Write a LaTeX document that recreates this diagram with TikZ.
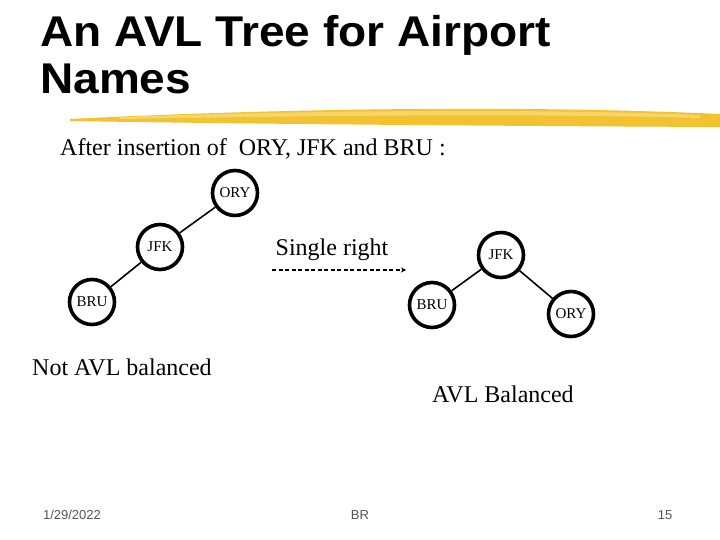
\documentclass[tikz,border=0pt]{standalone}
\usepackage{fontspec}
\setmainfont{Liberation Serif}
\setsansfont{Liberation Sans}
\usepackage{xcolor}
\usepackage{graphicx}
\usetikzlibrary{positioning, arrows.meta}
\definecolor{brushyellow}{HTML}{F2C230}
\definecolor{brushlight}{HTML}{F8DC78}
\definecolor{footgrey}{HTML}{555555}

\tikzset{
  avlnode/.style={circle, draw, line width=3.6pt, minimum size=45pt, inner sep=0pt,
                  font=\fontsize{15}{17}\selectfont},
  avledge/.style={line width=1.6pt},
  caption/.style={font=\fontsize{24}{28}\selectfont, inner sep=0pt},
  titletext/.style={anchor=base west, inner sep=0pt,
                    font=\sffamily\bfseries\fontsize{43}{48}\selectfont},
  footer/.style={font=\sffamily\fontsize{13}{15}\selectfont, text=footgrey, inner sep=0pt}
}

\begin{document}
\begin{tikzpicture}[x=1pt, y=-1pt]
  \useasboundingbox[fill=white] (0,0) rectangle (720,540);

  % title and brush stroke
  \node[titletext] (title1) at (40,47) {\scalebox{1.07}[1]{An AVL Tree for Airport}};
  \node[titletext] (title2) at (40,94) {\scalebox{1.07}[1]{Names}};
  \fill[brushyellow] (70,119) .. controls (250,110) and (500,104) .. (720,114)
    -- (720,127) .. controls (500,126) and (250,124) .. (70,121) -- cycle;
  \fill[brushlight, opacity=0.8] (120,117) .. controls (300,111) and (520,108) .. (700,115)
    -- (700,118) .. controls (520,113) and (300,116) .. (120,119) -- cycle;

  \node[anchor=base west, caption] (intro) at (60,156)
    {After insertion of\ \ ORY, JFK and BRU :};

  % before rotation
  \node[avlnode] (ory1) at (235,193) {ORY};
  \node[avlnode] (jfk1) at (160,247) {JFK};
  \node[avlnode] (bru1) at (92,302) {BRU};
  \draw[avledge] (ory1) -- (jfk1);
  \draw[avledge] (jfk1) -- (bru1);

  % rotation
  \node[caption] (rot) at (332,250) {Single right};
  \coordinate (rotA) at (272,270);
  \coordinate (rotB) at (406,270);
  \draw[line width=1.3pt, dash pattern=on 4pt off 2.5pt,
        -{Stealth[length=5pt, width=5pt]}] (rotA) -- (rotB);

  % after rotation
  \node[avlnode] (jfk2) at (501,255) {JFK};
  \node[avlnode] (bru2) at (432,305) {BRU};
  \node[avlnode] (ory2) at (571,314) {ORY};
  \draw[avledge] (jfk2) -- (bru2);
  \draw[avledge] (jfk2) -- (ory2);

  \node[anchor=base west, caption] (notbal) at (32,375) {Not AVL balanced};
  \node[anchor=base west, caption] (bal) at (432,402) {AVL Balanced};

  % footer
  \node[footer] (date) at (72,515) {1/29/2022};
  \node[footer] (author) at (360,515) {BR};
  \node[footer] (page) at (665,515) {15};
\end{tikzpicture}
\end{document}
